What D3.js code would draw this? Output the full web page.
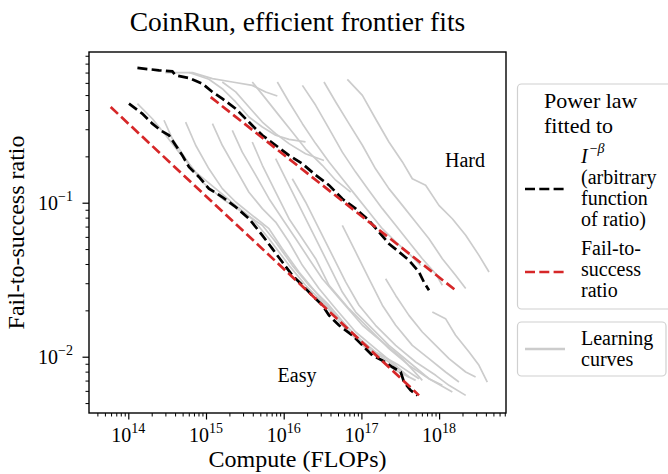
<!DOCTYPE html>
<html><head><meta charset="utf-8">
<script src="https://cdn.jsdelivr.net/npm/d3@7"></script>
<style>html,body{margin:0;padding:0;background:#fff;} svg{display:block;}</style>
</head><body>
<svg id="chart" width="668" height="474"></svg>
<script>
// ---------- data (compute in FLOPs, fail-to-success ratio) ----------
const xMajorTicks = [1e14, 1e15, 1e16, 1e17, 1e18];
const xMajorLabels = ["14", "15", "16", "17", "18"];
const yMajorTicks = [1e-2, 1e-1];
const yMajorLabels = ["\u22122", "\u22121"];

// power law fitted to I^-beta (black dashed)
const fitIHard = [[1.31e14,0.750],[2.48e14,0.724],[3.69e14,0.713],[4.06e14,0.672],[6.04e14,0.645],[8.97e14,0.593],[1.21e15,0.524],[1.62e15,0.474],[2.41e15,0.408],[3.57e15,0.334],[5.31e15,0.274],[7.88e15,0.236],[1.17e16,0.203],[1.74e16,0.179],[2.58e16,0.151],[3.83e16,0.130],[5.68e16,0.106],[8.43e16,0.0915],[1.25e17,0.0768],[1.68e17,0.0645],[2.26e17,0.0542],[3.05e17,0.0479],[4.09e17,0.0423],[5.51e17,0.0355],[6.38e17,0.0305],[7.41e17,0.0270]];
const fitIEasy = [[1.02e14,0.440],[1.51e14,0.379],[2.04e14,0.326],[2.61e14,0.295],[3.34e14,0.274],[4.06e14,0.236],[4.96e14,0.203],[6.04e14,0.1706],[8.12e14,0.147],[1.09e15,0.1234],[1.62e15,0.1089],[2.41e15,0.0938],[3.57e15,0.0788],[5.31e15,0.0614],[7.13e15,0.0503],[9.59e15,0.0412],[1.29e16,0.0338],[1.74e16,0.0291],[2.33e16,0.0250],[3.14e16,0.0216],[3.83e16,0.01856],[5.14e16,0.0160],[7.64e16,0.01377],[1.03e17,0.01185],[1.38e17,0.01020],[1.86e17,0.00946],[2.50e17,0.00857],[3.20e17,0.00796],[3.53e17,0.00685],[4.30e17,0.00605],[5.25e17,0.00561]];

// power law fitted to fail-to-success ratio (red dashed), end points
const fitRatioHard = [[1.15e15,0.485],[1.63e18,0.0270]];
const fitRatioEasy = [[5.93e13,0.418],[5.51e17,0.00561]];

// learning curves (grey)
const hard1 = [[3.0e14,0.70],[6.7e14,0.70],[1.21e15,0.639],[2.18e15,0.608],[3.94e15,0.578],[5.86e15,0.524],[8.28e15,0.493]];
const hard2 = [[6.04e14,0.70],[1.09e15,0.633],[1.62e15,0.550],[2.41e15,0.451],[3.57e15,0.360],[5.31e15,0.310],[7.88e15,0.274],[1.17e16,0.258],[1.91e16,0.248]];
const hard3 = [[1.62e15,0.608],[2.41e15,0.524],[3.57e15,0.418],[5.31e15,0.334],[7.88e15,0.281],[1.17e16,0.242],[1.91e16,0.208],[3.30e16,0.188]];
const hard4 = [[3.94e15,0.608],[5.86e15,0.474],[8.69e15,0.369],[1.29e16,0.288],[1.91e16,0.224],[3.14e16,0.175],[4.67e16,0.140],[7.28e16,0.117]];
const hard5 = [[8.28e15,0.608],[1.17e16,0.451],[1.74e16,0.326],[2.58e16,0.242],[3.83e16,0.184],[5.68e16,0.143],[8.43e16,0.1116],[1.25e17,0.0870],[1.86e17,0.0678],[2.76e17,0.0556],[4.09e17,0.0467],[5.79e17,0.0392]];
const hard6 = [[1.74e16,0.578],[2.58e16,0.429],[3.83e16,0.303],[5.68e16,0.213],[8.43e16,0.158],[1.25e17,0.120],[1.86e17,0.0915],[2.76e17,0.0713],[4.09e17,0.0556],[6.08e17,0.0433],[9.04e17,0.0346],[1.10e18,0.0291]];
const hard7 = [[3.30e16,0.608],[4.67e16,0.451],[6.92e16,0.326],[1.03e17,0.236],[1.52e17,0.166],[2.26e17,0.1234],[3.37e17,0.0961],[4.99e17,0.0749],[7.41e17,0.0584],[1.10e18,0.0433],[1.63e18,0.0338],[2.20e18,0.0277]];
const hard8 = [[6.59e16,0.633],[1.03e17,0.498],[1.52e17,0.351],[2.26e17,0.248],[3.37e17,0.184],[4.52e17,0.143],[6.71e17,0.1297],[9.95e17,0.0961],[1.48e18,0.0787],[2.20e18,0.0614],[3.26e18,0.0455],[4.39e18,0.0355]];
const easy1 = [[1.31e14,0.440],[2.04e14,0.351],[3.03e14,0.274],[4.49e14,0.213],[7.36e14,0.158],[1.33e15,0.1234],[2.41e15,0.0961],[3.94e15,0.0787],[6.47e15,0.0584],[1.17e16,0.0392],[1.91e16,0.0291],[3.14e16,0.0227],[5.68e16,0.0160],[1.03e17,0.01185],[1.68e17,0.00971],[2.76e17,0.00816],[4.99e17,0.00702]];
const easy2 = [[2.88e14,0.343],[3.69e14,0.260],[5.47e14,0.193],[8.97e14,0.136],[1.62e15,0.1062],[2.93e15,0.0870],[5.31e15,0.0713],[7.88e15,0.0556],[1.29e16,0.0392],[2.11e16,0.0291],[3.83e16,0.0216],[6.92e16,0.0152],[1.25e17,0.01128],[2.26e17,0.00924],[4.09e17,0.00738]];
const easy3 = [[5.47e14,0.334],[7.36e14,0.236],[1.09e15,0.166],[1.62e15,0.1234],[2.41e15,0.1011],[3.94e15,0.0828],[6.47e15,0.0678],[9.59e15,0.0503],[1.57e16,0.0355],[2.58e16,0.0263],[4.67e16,0.01856],[8.43e16,0.01377],[1.52e17,0.01073],[3.05e17,0.00879],[5.51e17,0.00720]];
const easy4 = [[1.21e15,0.326],[1.62e15,0.236],[2.41e15,0.166],[3.57e15,0.117],[5.31e15,0.0915],[7.88e15,0.0749],[1.17e16,0.0556],[1.74e16,0.0392],[2.84e16,0.0277],[4.67e16,0.0205],[8.43e16,0.01447],[1.52e17,0.01128],[2.76e17,0.00879],[4.09e17,0.00738]];
const easy5 = [[2.18e15,0.295],[2.93e15,0.213],[4.36e15,0.151],[6.47e15,0.1062],[9.59e15,0.0787],[1.43e16,0.0584],[2.11e16,0.0433],[3.14e16,0.0321],[5.68e16,0.0227],[1.03e17,0.0160],[1.86e17,0.01246],[3.37e17,0.00971],[6.08e17,0.00702]];
const easy6 = [[3.94e15,0.248],[5.31e15,0.175],[7.88e15,0.117],[1.17e16,0.0787],[1.74e16,0.0584],[2.58e16,0.0433],[3.83e16,0.0291],[6.92e16,0.0205],[1.25e17,0.0152],[2.26e17,0.01128],[4.09e17,0.00879],[7.41e17,0.00720],[1.10e18,0.00652]];
const easy7 = [[7.88e15,0.193],[1.17e16,0.1297],[1.74e16,0.0870],[2.58e16,0.0584],[3.83e16,0.0392],[5.68e16,0.0263],[8.43e16,0.0195],[1.38e17,0.0152],[2.26e17,0.01185],[4.09e17,0.00924],[7.41e17,0.00720],[1.48e18,0.00590]];
const easy8 = [[1.29e16,0.143],[1.91e16,0.1011],[2.84e16,0.0678],[4.23e16,0.0455],[6.27e16,0.0306],[9.31e16,0.0216],[1.52e17,0.0160],[2.76e17,0.01185],[4.99e17,0.00924],[9.04e17,0.00757],[1.34e18,0.00652],[2.20e18,0.00561]];
const easy9 = [[5.68e16,0.0713],[8.43e16,0.0479],[1.25e17,0.0321],[1.86e17,0.0216],[2.76e17,0.0160],[4.52e17,0.01185],[7.41e17,0.00971],[1.21e18,0.00796],[1.80e18,0.00685]];
const easy10 = [[2.05e17,0.0321],[2.76e17,0.0250],[4.09e17,0.01856],[6.08e17,0.01447],[9.04e17,0.01185],[1.34e18,0.00971],[2.20e18,0.00796],[2.95e18,0.00738]];
const easy11 = [[8.18e17,0.0195],[1.21e18,0.01766],[1.63e18,0.01377],[2.43e18,0.01073],[3.26e18,0.00879],[4.17e18,0.00685]];

const learningCurves = [hard1,hard2,hard3,hard4,hard5,hard6,hard7,hard8,easy1,easy2,easy3,easy4,easy5,easy6,easy7,easy8,easy9,easy10,easy11];
const fitICurves = [fitIHard, fitIEasy];
const fitRatioCurves = [fitRatioHard, fitRatioEasy];

// ---------- drawing ----------
const SERIF = "'Liberation Serif','Times New Roman',Times,serif";
const svg = d3.select("#chart");
const L = 89, R = 506, T = 52, B = 413;
const x = d3.scaleLog().domain([3.12e13, 7.26e18]).range([L, R]);
const y = d3.scaleLog().domain([0.00431, 0.952]).range([B, T]);

const GREY = "#cccccc", RED = "#d62728";
const line = d3.line().x(d => x(d[0])).y(d => y(d[1]));

svg.append("defs").append("clipPath").attr("id","clip")
  .append("rect").attr("x",L).attr("y",T).attr("width",R-L).attr("height",B-T);

const plot = svg.append("g").attr("clip-path","url(#clip)");
plot.selectAll("path.lc").data(learningCurves).join("path").attr("class","lc")
  .attr("d", line).attr("fill","none").attr("stroke",GREY).attr("stroke-width",1.7)
  .attr("stroke-linejoin","round");
plot.selectAll("path.fi").data(fitICurves).join("path").attr("class","fi")
  .attr("d", line).attr("fill","none").attr("stroke","#000").attr("stroke-width",2.7)
  .attr("stroke-dasharray","10,4.3");
plot.selectAll("path.fr").data(fitRatioCurves).join("path").attr("class","fr")
  .attr("d", line).attr("fill","none").attr("stroke",RED).attr("stroke-width",2.7)
  .attr("stroke-dasharray","10,4.3");

// minor ticks
function minorTicks(scale, e0, e1) {
  const out = [], [a, b] = scale.domain();
  for (let e = e0; e <= e1; e++) for (let k = 2; k <= 9; k++) {
    const v = k * Math.pow(10, e);
    if (v >= Math.min(a,b) && v <= Math.max(a,b)) out.push(v);
  }
  return out;
}
function styleAxis(g) {
  g.select(".domain").remove();
  g.selectAll(".tick line").attr("stroke","#000").attr("stroke-width",1);
}
svg.append("g").attr("transform",`translate(0,${B})`)
  .call(d3.axisBottom(x).tickValues(minorTicks(x,13,18)).tickSize(3.5).tickFormat(""))
  .call(styleAxis);
svg.append("g").attr("transform",`translate(0,${B})`)
  .call(d3.axisBottom(x).tickValues(xMajorTicks).tickSize(6.5).tickFormat(""))
  .call(styleAxis).call(g => g.selectAll(".tick line").attr("stroke-width",1.2));
svg.append("g").attr("transform",`translate(${L},0)`)
  .call(d3.axisLeft(y).tickValues(minorTicks(y,-3,-1)).tickSize(3.5).tickFormat(""))
  .call(styleAxis);
svg.append("g").attr("transform",`translate(${L},0)`)
  .call(d3.axisLeft(y).tickValues(yMajorTicks).tickSize(6.5).tickFormat(""))
  .call(styleAxis).call(g => g.selectAll(".tick line").attr("stroke-width",1.2));

// tick labels with superscripts
xMajorTicks.forEach((v, i) => {
  const t = svg.append("text").attr("x", x(v)).attr("y", 442).attr("text-anchor","middle")
    .attr("font-family",SERIF).attr("font-size",20).attr("fill","#000");
  t.append("tspan").text("10");
  t.append("tspan").attr("font-size",14).attr("dy",-9).text(xMajorLabels[i]);
});
yMajorTicks.forEach((v, i) => {
  const t = svg.append("text").attr("x", 73).attr("y", y(v) + 7).attr("text-anchor","end")
    .attr("font-family",SERIF).attr("font-size",20).attr("fill","#000");
  t.append("tspan").text("10");
  t.append("tspan").attr("font-size",14).attr("dy",-9).text(yMajorLabels[i]);
});

// frame
svg.append("rect").attr("x",L).attr("y",T).attr("width",R-L).attr("height",B-T)
  .attr("fill","none").attr("stroke","#000").attr("stroke-width",1.4);

// titles
svg.append("text").attr("x",(L+R)/2).attr("y",31).attr("text-anchor","middle")
  .attr("font-family",SERIF).attr("font-size",27.5).text("CoinRun, efficient frontier fits");
svg.append("text").attr("x",(L+R)/2).attr("y",467).attr("text-anchor","middle")
  .attr("font-family",SERIF).attr("font-size",24).text("Compute (FLOPs)");
svg.append("text").attr("transform",`translate(24,${(T+B)/2}) rotate(-90)`).attr("text-anchor","middle")
  .attr("font-family",SERIF).attr("font-size",24).text("Fail-to-success ratio");

// annotations
svg.append("text").attr("x",465).attr("y",167).attr("text-anchor","middle")
  .attr("font-family",SERIF).attr("font-size",20).text("Hard");
svg.append("text").attr("x",297).attr("y",382).attr("text-anchor","middle")
  .attr("font-family",SERIF).attr("font-size",20).text("Easy");

// legends
const lg = svg.append("g").attr("font-family",SERIF).attr("fill","#000");
lg.append("rect").attr("x",517.5).attr("y",84).attr("width",160).attr("height",225).attr("rx",4)
  .attr("fill","#fff").attr("stroke","#d0d0d0").attr("stroke-width",1.2);
lg.append("rect").attr("x",517.5).attr("y",322).attr("width",148.5).attr("height",54).attr("rx",4)
  .attr("fill","#fff").attr("stroke","#d0d0d0").attr("stroke-width",1.2);
lg.append("text").attr("x",544).attr("y",108).attr("font-size",22).text("Power law");
lg.append("text").attr("x",544).attr("y",133).attr("font-size",22).text("fitted to");
const ib = lg.append("text").attr("x",581).attr("y",163).attr("font-size",20);
ib.append("tspan").attr("font-style","italic").text("I");
ib.append("tspan").attr("font-size",14).attr("dy",-10).attr("dx",2).text("\u2212");
ib.append("tspan").attr("font-size",14).attr("font-style","italic").text("\u03b2");
[["(arbitrary",184],["function",205],["of ratio)",226],["Fail-to-",255],["success",276],["ratio",297],["Learning",345],["curves",366]]
  .forEach(([s, yy]) => lg.append("text").attr("x",581).attr("y",yy).attr("font-size",20).text(s));
lg.append("line").attr("x1",525).attr("x2",565).attr("y1",189).attr("y2",189)
  .attr("stroke","#000").attr("stroke-width",2.7).attr("stroke-dasharray","10,4.3");
lg.append("line").attr("x1",525).attr("x2",565).attr("y1",272).attr("y2",272)
  .attr("stroke",RED).attr("stroke-width",2.7).attr("stroke-dasharray","10,4.3");
lg.append("line").attr("x1",525).attr("x2",565).attr("y1",349).attr("y2",349)
  .attr("stroke",GREY).attr("stroke-width",2.4);
</script></body></html>
